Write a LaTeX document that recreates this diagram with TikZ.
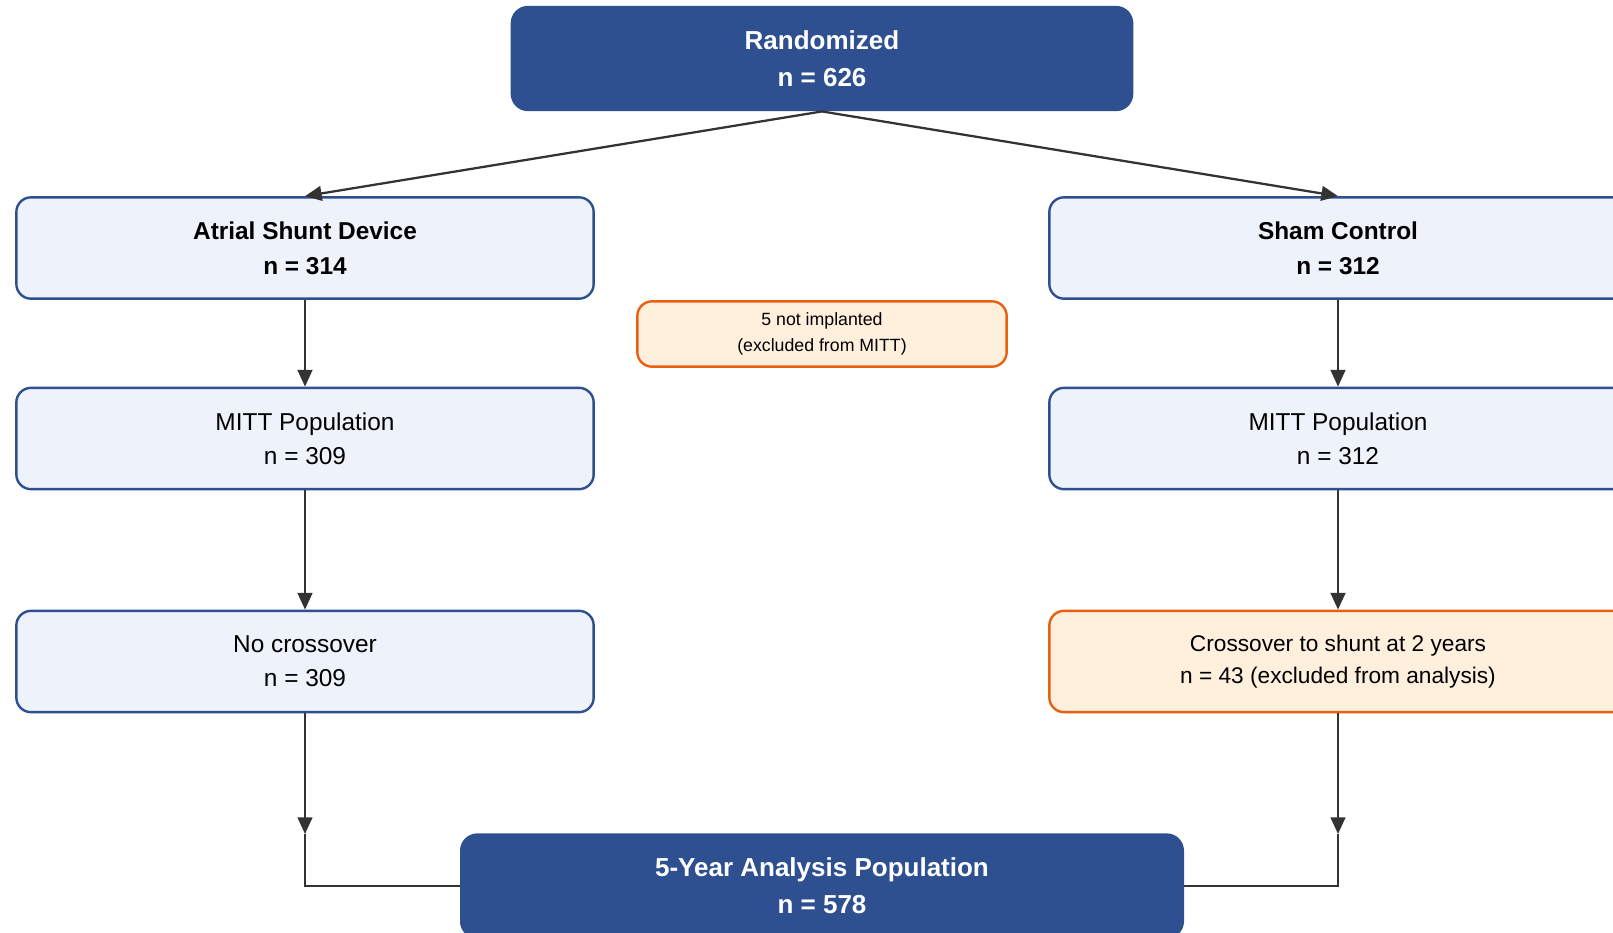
\documentclass[tikz,border=0pt]{standalone}
\usepackage{fontspec}
\setmainfont{Liberation Sans}
\usepackage{tikz}
\usetikzlibrary{arrows.meta}

\definecolor{darkblue}{RGB}{46,80,144}
\definecolor{paleblue}{RGB}{238,242,250}
\definecolor{darkorange}{RGB}{232,96,16}
\definecolor{paleorange}{RGB}{255,240,222}
\definecolor{linegray}{RGB}{51,51,51}

\begin{document}
\begin{tikzpicture}[x=0.75pt,y=0.75pt,yscale=-1,xscale=1,
    headbox/.style={fill=darkblue, rounded corners=13pt, text=white, align=center,
        font=\fontsize{19.5}{27.5}\selectfont\bfseries, inner sep=0pt},
    armbox/.style={draw=darkblue, line width=1.8pt, fill=paleblue, rounded corners=11pt,
        align=center, minimum width=433pt, minimum height=76pt, inner sep=0pt},
    exclbox/.style={draw=darkorange, line width=1.8pt, fill=paleorange, rounded corners=11pt,
        align=center, inner sep=0pt},
    conn/.style={draw=linegray, line width=1.7pt, -{Triangle[length=12.5pt,width=11pt]}},
    plain/.style={draw=linegray, line width=1.7pt}]
        \clip (0,0) rectangle (1613,932);

        % Header
        \node [headbox, minimum width=467pt, minimum height=79pt] (rand) at (822,58.5) {Randomized\\n = 626};

        % Arms
        \node [armbox, font=\fontsize{18.3}{26}\selectfont\bfseries] (shunt) at (305,248) {Atrial Shunt Device\\n = 314};
        \node [armbox, font=\fontsize{18.3}{26}\selectfont\bfseries] (sham) at (1338,248) {Sham Control\\n = 312};

        % Note between arms
        \node [exclbox, minimum width=277pt, minimum height=49pt, font=\fontsize{13.3}{20}\selectfont] (notimpl) at (822,334) {5 not implanted\\(excluded from MITT)};

        % MITT
        \node [armbox, font=\fontsize{18.3}{25.5}\selectfont] (mittL) at (305,438.5) {MITT Population\\n = 309};
        \node [armbox, font=\fontsize{18.3}{25.5}\selectfont] (mittR) at (1338,438.5) {MITT Population\\n = 312};

        % Crossover
        \node [armbox, font=\fontsize{18.3}{25.5}\selectfont] (nocross) at (305,661.5) {No crossover\\n = 309};
        \node [exclbox, minimum width=433pt, minimum height=76pt, font=\fontsize{17}{23.5}\selectfont] (cross) at (1338,661.5) {Crossover to shunt at 2 years\\n = 43 (excluded from analysis)};

        % Final
        \node [headbox, minimum width=543pt, minimum height=79pt] (final) at (822,886) {5-Year Analysis Population\\n = 578};

        \coordinate (tipL) at (305,834);
        \coordinate (tipR) at (1338,834);

        % Connectors
        \draw [conn] (rand.south) -- (shunt.north);
        \draw [conn] (rand.south) -- (sham.north);
        \draw [conn] (shunt) -- (mittL);
        \draw [conn] (sham) -- (mittR);
        \draw [conn] (mittL) -- (nocross);
        \draw [conn] (mittR) -- (cross);
        \draw [conn] (nocross) -- (tipL);
        \draw [conn] (cross) -- (tipR);
        \draw [plain] (tipL) |- (final.west);
        \draw [plain] (tipR) |- (final.east);
\end{tikzpicture}
\end{document}
